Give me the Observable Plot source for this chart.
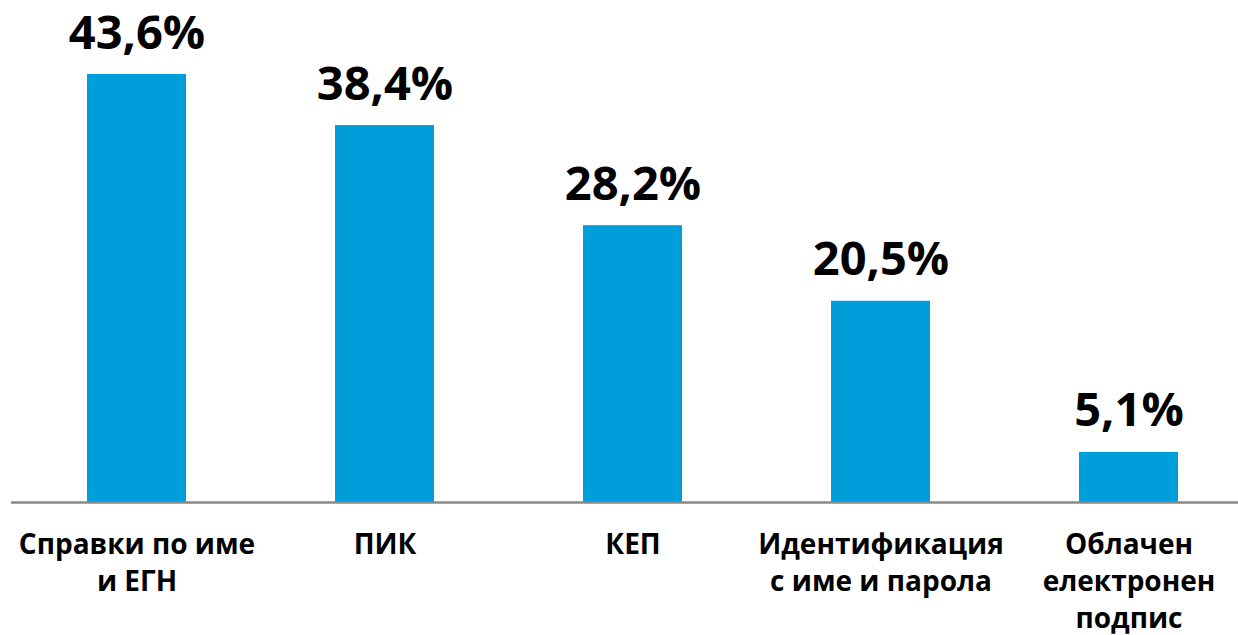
<!DOCTYPE html>
<html>
<head>
<meta charset="utf-8">
<script src="https://cdn.jsdelivr.net/npm/d3@7"></script>
<script src="https://cdn.jsdelivr.net/npm/@observablehq/plot@0.6"></script>
<style>
  html, body { margin: 0; padding: 0; background: #fff; overflow: hidden; }
  svg { display: block; }
</style>
</head>
<body>
<div id="chart"></div>
<script>
const categories = ["Справки по име и ЕГН", "ПИК", "КЕП", "Идентификация с име и парола", "Облачен електронен подпис"];
const tickLabels = ["Справки по име\nи ЕГН", "ПИК", "КЕП", "Идентификация\nс име и парола", "Облачен\nелектронен\nподпис"];
const values = [43.6, 38.4, 28.2, 20.5, 5.1];
const valueLabels = ["43,6%", "38,4%", "28,2%", "20,5%", "5,1%"];

const data = categories.map((c, i) => ({cat: c, value: values[i], label: valueLabels[i]}));
const tickMap = new Map(categories.map((c, i) => [c, tickLabels[i]]));

const chart = Plot.plot({
  width: 1238,
  height: 635,
  marginTop: 74,
  marginBottom: 133,
  marginLeft: 11,
  marginRight: 0,
  style: {fontFamily: "'Open Sans', sans-serif", background: "#fff", color: "#000"},
  x: {type: "band", domain: categories, range: [11, 1254], paddingInner: 0.6, paddingOuter: 0.3, align: 0.5},
  y: {domain: [0, 43.6], axis: null},
  marks: [
    Plot.barY(data, {x: "cat", y: "value", fill: "#009ddb"}),
    Plot.ruleY([0], {stroke: "#888", strokeWidth: 2.5}),
    Plot.text(data, {x: "cat", y: "value", text: "label", dy: -26, lineAnchor: "bottom", fontSize: 47, fontWeight: "bold", fill: "#000"}),
    Plot.axisX({tickSize: 0, tickPadding: 25, tickFormat: d => tickMap.get(d), fontSize: 28, fontWeight: "bold", lineHeight: 1.32, label: null, fill: "#000", textAnchor: "middle", lineAnchor: "top"})
  ]
});
document.getElementById("chart").appendChild(chart);
</script>
</body>
</html>
